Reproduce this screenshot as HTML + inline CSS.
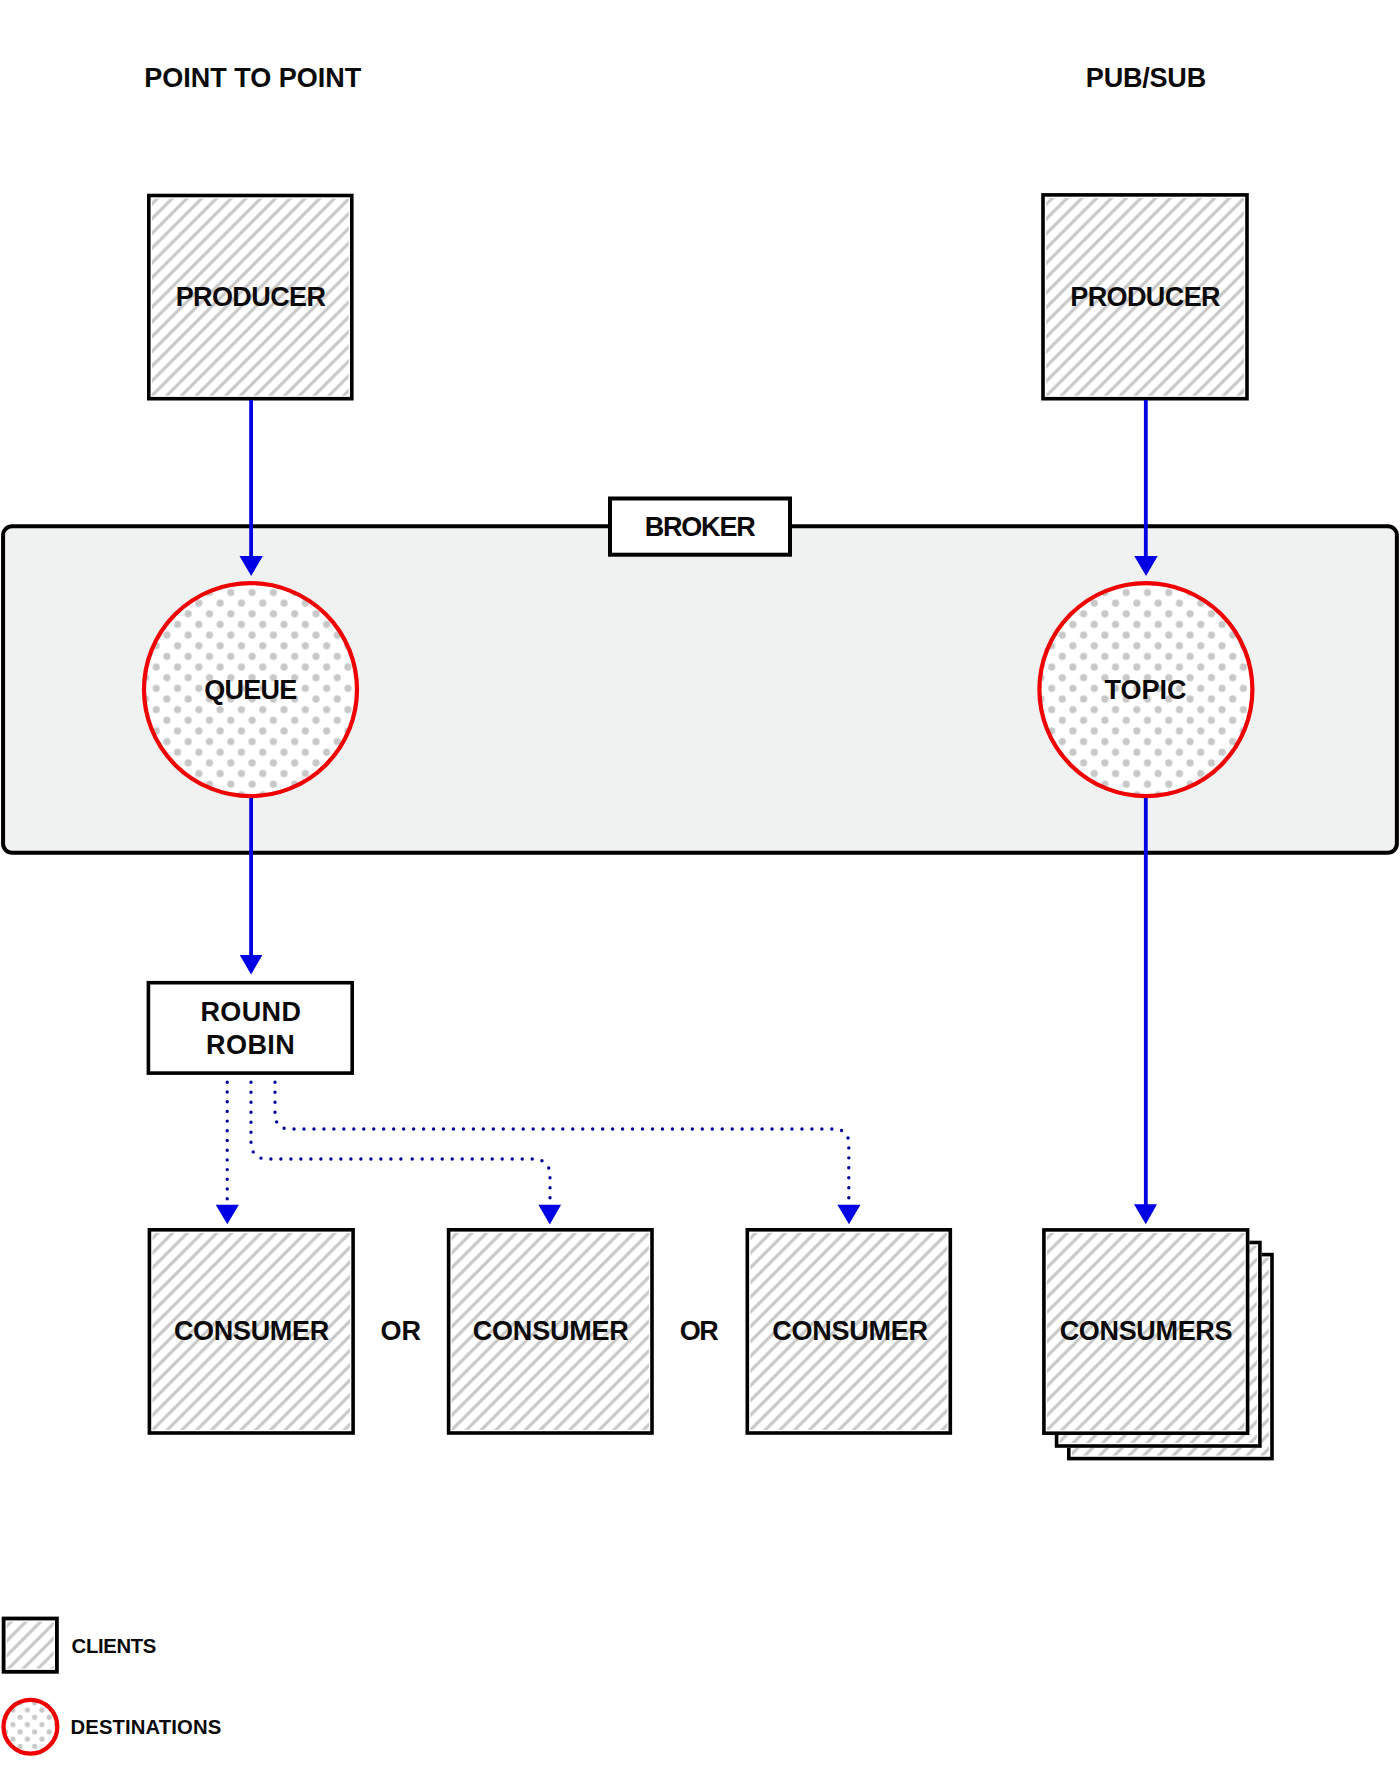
<!DOCTYPE html>
<html><head><meta charset="utf-8">
<style>
html,body{margin:0;padding:0;background:#fff;width:1400px;height:1792px;overflow:hidden;}
svg{display:block;}
text{font-family:"Liberation Sans",sans-serif;font-weight:bold;fill:#0a0a0a;}
</style></head>
<body>
<svg width="1400" height="1792" viewBox="0 0 1400 1792">
<defs>
<pattern id="hP1" patternUnits="userSpaceOnUse" width="14.75" height="14.75" patternTransform="translate(158.60,197.30)"><path d="M-2,2 L2,-2 M-2,16.75 L16.75,-2 M12.75,16.75 L16.75,12.75" stroke="#c8c8c8" stroke-width="3.2"/></pattern>
<pattern id="hP2" patternUnits="userSpaceOnUse" width="14.75" height="14.75" patternTransform="translate(1053.80,196.70)"><path d="M-2,2 L2,-2 M-2,16.75 L16.75,-2 M12.75,16.75 L16.75,12.75" stroke="#c8c8c8" stroke-width="3.2"/></pattern>
<pattern id="hS3" patternUnits="userSpaceOnUse" width="14.75" height="14.75" patternTransform="translate(1077.60,1256.40)"><path d="M-2,2 L2,-2 M-2,16.75 L16.75,-2 M12.75,16.75 L16.75,12.75" stroke="#c8c8c8" stroke-width="3.2"/></pattern>
<pattern id="hS2" patternUnits="userSpaceOnUse" width="14.75" height="14.75" patternTransform="translate(1065.40,1244.30)"><path d="M-2,2 L2,-2 M-2,16.75 L16.75,-2 M12.75,16.75 L16.75,12.75" stroke="#c8c8c8" stroke-width="3.2"/></pattern>
<pattern id="hC1" patternUnits="userSpaceOnUse" width="14.75" height="14.75" patternTransform="translate(159.20,1231.60)"><path d="M-2,2 L2,-2 M-2,16.75 L16.75,-2 M12.75,16.75 L16.75,12.75" stroke="#c8c8c8" stroke-width="3.2"/></pattern>
<pattern id="hC2" patternUnits="userSpaceOnUse" width="14.75" height="14.75" patternTransform="translate(458.40,1231.60)"><path d="M-2,2 L2,-2 M-2,16.75 L16.75,-2 M12.75,16.75 L16.75,12.75" stroke="#c8c8c8" stroke-width="3.2"/></pattern>
<pattern id="hC3" patternUnits="userSpaceOnUse" width="14.75" height="14.75" patternTransform="translate(757.10,1231.60)"><path d="M-2,2 L2,-2 M-2,16.75 L16.75,-2 M12.75,16.75 L16.75,12.75" stroke="#c8c8c8" stroke-width="3.2"/></pattern>
<pattern id="hC4" patternUnits="userSpaceOnUse" width="14.75" height="14.75" patternTransform="translate(1053.70,1231.70)"><path d="M-2,2 L2,-2 M-2,16.75 L16.75,-2 M12.75,16.75 L16.75,12.75" stroke="#c8c8c8" stroke-width="3.2"/></pattern>
<pattern id="hLg" patternUnits="userSpaceOnUse" width="14.75" height="14.75" patternTransform="translate(12.50,1620.40)"><path d="M-2,2 L2,-2 M-2,16.75 L16.75,-2 M12.75,16.75 L16.75,12.75" stroke="#c8c8c8" stroke-width="3.2"/></pattern>
<pattern id="dQ" patternUnits="userSpaceOnUse" width="21.3" height="21.3" patternTransform="translate(252.1,677.7)"><circle cx="0" cy="0" r="3.6" fill="#c8c8c8"/><circle cx="21.3" cy="0" r="3.6" fill="#c8c8c8"/><circle cx="0" cy="21.3" r="3.6" fill="#c8c8c8"/><circle cx="21.3" cy="21.3" r="3.6" fill="#c8c8c8"/><circle cx="10.65" cy="10.65" r="3.6" fill="#c8c8c8"/></pattern>
<pattern id="dT" patternUnits="userSpaceOnUse" width="21.3" height="21.3" patternTransform="translate(1147.5,677.7)"><circle cx="0" cy="0" r="3.6" fill="#c8c8c8"/><circle cx="21.3" cy="0" r="3.6" fill="#c8c8c8"/><circle cx="0" cy="21.3" r="3.6" fill="#c8c8c8"/><circle cx="21.3" cy="21.3" r="3.6" fill="#c8c8c8"/><circle cx="10.65" cy="10.65" r="3.6" fill="#c8c8c8"/></pattern>
<pattern id="dLg" patternUnits="userSpaceOnUse" width="14.54" height="14.54" patternTransform="translate(27.4,1724.6)"><circle cx="0" cy="0" r="2.6" fill="#c8c8c8"/><circle cx="14.54" cy="0" r="2.6" fill="#c8c8c8"/><circle cx="0" cy="14.54" r="2.6" fill="#c8c8c8"/><circle cx="14.54" cy="14.54" r="2.6" fill="#c8c8c8"/><circle cx="7.27" cy="7.27" r="2.6" fill="#c8c8c8"/></pattern>
</defs>
<text x="252.7" y="86.8" font-size="27" text-anchor="middle">POINT TO POINT</text>
<text x="1145.9" y="86.7" font-size="27" text-anchor="middle" letter-spacing="-0.2">PUB/SUB</text>

<rect x="147.00" y="193.70" width="206.60" height="206.80" fill="#fff"/><rect x="151.90" y="198.60" width="196.80" height="197.00" fill="url(#hP1)"/><rect x="148.80" y="195.50" width="203.00" height="203.20" fill="none" stroke="#000" stroke-width="3.6"/>
<text x="250.5" y="306.2" font-size="27" text-anchor="middle" letter-spacing="-0.6">PRODUCER</text>
<rect x="1041.20" y="193.10" width="207.60" height="207.40" fill="#fff"/><rect x="1046.10" y="198.00" width="197.80" height="197.60" fill="url(#hP2)"/><rect x="1043.00" y="194.90" width="204.00" height="203.80" fill="none" stroke="#000" stroke-width="3.6"/>
<text x="1145.1" y="306.4" font-size="27" text-anchor="middle" letter-spacing="-0.6">PRODUCER</text>

<rect x="3.07" y="526.2" width="1393.8" height="326.5" rx="9" ry="9" fill="#f0f1f1" stroke="#000" stroke-width="4"/>
<rect x="610" y="498.5" width="180" height="56.2" fill="#fff" stroke="#000" stroke-width="4"/>
<text x="699.6" y="535.8" font-size="27" text-anchor="middle" letter-spacing="-1.2">BROKER</text>

<circle cx="250.5" cy="689.6" r="106.5" fill="#fff"/>
<circle cx="250.5" cy="689.6" r="106.5" fill="url(#dQ)" stroke="#f00000" stroke-width="4.2"/>
<text x="250.4" y="698.6" font-size="27" text-anchor="middle" letter-spacing="-0.75">QUEUE</text>
<circle cx="1145.9" cy="689.6" r="106.5" fill="#fff"/>
<circle cx="1145.9" cy="689.6" r="106.5" fill="url(#dT)" stroke="#f00000" stroke-width="4.2"/>
<text x="1145.5" y="698.6" font-size="27" text-anchor="middle">TOPIC</text>

<g fill="#0000e4">
<rect x="249.2" y="400" width="3.8" height="157"/>
<polygon points="239.5,555.9 262.9,555.9 251.2,575.9"/>
<rect x="1143.9" y="400" width="3.8" height="157"/>
<polygon points="1134.3,555.9 1157.7,555.9 1146,575.9"/>
<rect x="249.2" y="798" width="3.8" height="158"/>
<polygon points="239.7,954.9 262.4,954.9 251.1,974.6"/>
<rect x="1143.9" y="798" width="3.8" height="407"/>
<polygon points="1134,1204.3 1157,1204.3 1145.8,1224.2"/>
</g>

<rect x="148.4" y="982.7" width="203.8" height="90.4" fill="#fff" stroke="#000" stroke-width="3.6"/>
<text x="250.9" y="1021.4" font-size="27" text-anchor="middle" letter-spacing="0.4">ROUND</text>
<text x="250.6" y="1054.3" font-size="27" text-anchor="middle" letter-spacing="0.4">ROBIN</text>

<g fill="none" stroke="#00009c" stroke-width="3.4" stroke-linecap="round">
<path stroke-dasharray="0 9.7" d="M227.2,1082.3 V1200"/>
<path stroke-dasharray="0 10" d="M251,1082.3 V1144 A15,15 0 0 0 266,1159 H404"/>
<path stroke-dasharray="0 10" d="M550,1197.8 V1174 A15,15 0 0 0 535,1159 H408"/>
<path stroke-dasharray="0 9.965" d="M275,1082.3 V1115.5 A13.5,13.5 0 0 0 288.5,1129 H560"/>
<path stroke-dasharray="0 9.965" d="M848.8,1197.7 V1142.5 A13.5,13.5 0 0 0 835.3,1129 H561"/>
</g>
<g fill="#0000e4">
<polygon points="215.7,1204.7 238.9,1204.7 227.3,1224.2"/>
<polygon points="538.4,1204.7 561.1,1204.7 549.8,1224.4"/>
<polygon points="837.4,1204.7 860.5,1204.7 849,1224.3"/>
</g>

<rect x="147.60" y="1228.00" width="207.30" height="206.80" fill="#fff"/><rect x="152.50" y="1232.90" width="197.50" height="197.00" fill="url(#hC1)"/><rect x="149.40" y="1229.80" width="203.70" height="203.20" fill="none" stroke="#000" stroke-width="3.6"/>
<text x="251.4" y="1340.4" font-size="27" text-anchor="middle" letter-spacing="-0.33">CONSUMER</text>
<text x="400.7" y="1340.4" font-size="27" text-anchor="middle">OR</text>
<rect x="446.80" y="1228.00" width="207.00" height="206.80" fill="#fff"/><rect x="451.70" y="1232.90" width="197.20" height="197.00" fill="url(#hC2)"/><rect x="448.60" y="1229.80" width="203.40" height="203.20" fill="none" stroke="#000" stroke-width="3.6"/>
<text x="550.7" y="1340.4" font-size="27" text-anchor="middle" letter-spacing="-0.2">CONSUMER</text>
<text x="698.5" y="1340.4" font-size="27" text-anchor="middle" letter-spacing="-1.5">OR</text>
<rect x="745.50" y="1228.00" width="206.60" height="206.80" fill="#fff"/><rect x="750.40" y="1232.90" width="196.80" height="197.00" fill="url(#hC3)"/><rect x="747.30" y="1229.80" width="203.00" height="203.20" fill="none" stroke="#000" stroke-width="3.6"/>
<text x="850" y="1340.4" font-size="27" text-anchor="middle" letter-spacing="-0.25">CONSUMER</text>

<rect x="1067.00" y="1252.80" width="206.80" height="207.60" fill="#fff"/><rect x="1071.90" y="1257.70" width="197.00" height="197.80" fill="url(#hS3)"/><rect x="1068.80" y="1254.60" width="203.20" height="204.00" fill="none" stroke="#000" stroke-width="3.6"/>
<rect x="1054.80" y="1240.70" width="206.90" height="207.10" fill="#fff"/><rect x="1059.70" y="1245.60" width="197.10" height="197.30" fill="url(#hS2)"/><rect x="1056.60" y="1242.50" width="203.30" height="203.50" fill="none" stroke="#000" stroke-width="3.6"/>
<rect x="1042.10" y="1228.10" width="207.30" height="206.90" fill="#fff"/><rect x="1047.00" y="1233.00" width="197.50" height="197.10" fill="url(#hC4)"/><rect x="1043.90" y="1229.90" width="203.70" height="203.30" fill="none" stroke="#000" stroke-width="3.6"/>
<text x="1145.9" y="1340.4" font-size="27" text-anchor="middle" letter-spacing="-0.33">CONSUMERS</text>

<rect x="1.7" y="1616.6" width="57.10" height="57.10" fill="#fff"/><rect x="6.80" y="1621.70" width="46.90" height="46.90" fill="url(#hLg)"/><rect x="3.60" y="1618.50" width="53.30" height="53.30" fill="none" stroke="#000" stroke-width="3.8"/>
<text x="71.6" y="1653.1" font-size="20.3" letter-spacing="-0.33">CLIENTS</text>
<circle cx="30.4" cy="1726.7" r="26.9" fill="#fff"/>
<circle cx="30.4" cy="1726.7" r="26.9" fill="url(#dLg)" stroke="#f00000" stroke-width="4.3"/>
<text x="70.6" y="1733.7" font-size="20.3" letter-spacing="0.1">DESTINATIONS</text>
</svg>
</body></html>
